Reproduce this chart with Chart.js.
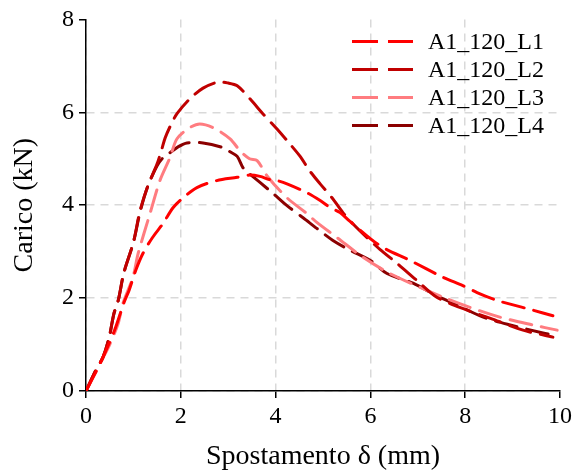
<!DOCTYPE html>
<html>
<head>
<meta charset="utf-8">
<script src="https://cdn.jsdelivr.net/npm/chart.js@4/dist/chart.umd.min.js"></script>
<style>
    html, body { margin: 0; padding: 0; background: #fff; }
    #wrap { width: 577px; height: 475px; }
</style>
</head>
<body>
<div id="wrap"><canvas id="chart" width="577" height="475"></canvas></div>
<script>
// serie (spostamento mm / carico kN)
const labels = ['A1_120_L1', 'A1_120_L2', 'A1_120_L3', 'A1_120_L4'];
const colors = ['#ff0000', '#c00000', '#ff7c80', '#8b0000'];

const xL1 = [0, 0.3, 0.6, 0.8, 0.91, 1.05, 1.2, 1.4, 1.62, 1.84, 2.05, 2.34, 2.76, 3.19, 3.46, 3.67, 3.88, 4.03, 4.24, 4.66, 4.94, 5.15, 5.36, 5.57, 6.2, 6.84, 7.53, 7.95, 8.25, 8.67, 8.95, 9.43, 9.85];
const yL1 = [0, 0.6, 1.3, 1.9, 2.17, 2.6, 2.96, 3.3, 3.6, 3.95, 4.16, 4.38, 4.53, 4.6, 4.65, 4.62, 4.55, 4.53, 4.46, 4.27, 4.1, 3.95, 3.84, 3.65, 3.13, 2.81, 2.45, 2.27, 2.12, 1.95, 1.87, 1.74, 1.62];

const xL2 = [0, 0.21, 0.36, 0.49, 0.59, 0.68, 0.8, 1.0, 1.14, 1.3, 1.5, 1.6, 1.67, 1.8, 1.92, 2.19, 2.47, 2.78, 3.0, 3.19, 3.46, 3.73, 4.03, 4.3, 4.51, 4.72, 4.94, 5.19, 5.42, 5.63, 5.93, 6.2, 6.56, 6.98, 7.4, 8.04, 8.52, 9.22, 9.85];
const yL2 = [0, 0.45, 0.73, 1.16, 1.67, 1.95, 2.55, 3.2, 3.88, 4.4, 4.89, 5.21, 5.45, 5.75, 5.97, 6.29, 6.52, 6.65, 6.63, 6.57, 6.29, 5.97, 5.64, 5.32, 5.06, 4.74, 4.46, 4.16, 3.84, 3.6, 3.3, 3.05, 2.75, 2.38, 2.02, 1.74, 1.57, 1.31, 1.16];

const xL3 = [0, 0.3, 0.5, 0.68, 0.78, 0.99, 1.1, 1.35, 1.56, 1.77, 1.92, 2.19, 2.4, 2.68, 3.04, 3.25, 3.45, 3.61, 3.82, 4.24, 4.66, 4.87, 5.3, 5.84, 6.41, 7.05, 7.53, 8.1, 8.73, 9.43, 9.94];
const yL3 = [0, 0.6, 1.0, 1.46, 1.89, 2.45, 2.96, 3.82, 4.53, 5.02, 5.43, 5.67, 5.75, 5.67, 5.43, 5.17, 5.0, 4.96, 4.63, 4.16, 3.82, 3.63, 3.3, 2.88, 2.53, 2.23, 2.02, 1.8, 1.59, 1.42, 1.31];

const xL4 = [0, 0.21, 0.36, 0.49, 0.59, 0.68, 0.8, 1.0, 1.14, 1.3, 1.5, 1.65, 1.77, 1.95, 2.13, 2.47, 2.89, 3.04, 3.19, 3.31, 3.4, 3.67, 3.95, 4.24, 4.58, 4.87, 5.21, 5.57, 6.0, 6.35, 6.9, 7.4, 7.83, 8.38, 8.95, 9.64, 9.9];
const yL4 = [0, 0.45, 0.73, 1.16, 1.67, 1.95, 2.55, 3.2, 3.85, 4.4, 4.85, 5.05, 5.13, 5.26, 5.34, 5.34, 5.24, 5.15, 5.05, 4.81, 4.72, 4.49, 4.25, 3.99, 3.73, 3.5, 3.24, 3.03, 2.81, 2.53, 2.32, 2.05, 1.85, 1.59, 1.42, 1.25, 1.2];

const xTicks = [0, 2, 4, 6, 8, 10];
const yTicks = [0, 2, 4, 6, 8];

const FONT = "'Liberation Serif', 'Times New Roman', serif";

function toPoints(xs, ys) {
    return xs.map((x, i) => ({ x, y: ys[i] }));
}

const series = [[xL1, yL1], [xL2, yL2], [xL3, yL3], [xL4, yL4]];

const datasets = series.map((s, i) => ({
    label: labels[i],
    data: toPoints(s[0], s[1]),
    borderColor: colors[i],
    backgroundColor: colors[i],
    borderWidth: 3,
    borderDash: [22, 10],
    borderCapStyle: 'round',
    pointRadius: 0,
    tension: 0.3,
    fill: false,
}));

// legenda disegnata dentro l'area del grafico, in alto a destra
const insideLegend = {
    id: 'insideLegend',
    afterDraw(chart) {
        const { ctx, chartArea } = chart;
        ctx.save();
        ctx.font = `24px ${FONT}`;
        ctx.textBaseline = 'middle';
        ctx.fillStyle = '#000';
        chart.data.datasets.forEach((ds, i) => {
            const y = chartArea.top + 22 + i * 28;
            const x0 = chartArea.right - 208;
            ctx.strokeStyle = ds.borderColor;
            ctx.lineWidth = 3;
            ctx.setLineDash([26, 10]);
            ctx.beginPath();
            ctx.moveTo(x0, y);
            ctx.lineTo(x0 + 61, y);
            ctx.stroke();
            ctx.setLineDash([]);
            ctx.fillText(ds.label, chartArea.right - 132, y + 1);
        });
        ctx.restore();
    },
};

const gridColor = (max) => (c) => (c.tick && c.tick.value === max ? 'rgba(0,0,0,0)' : '#d9d9d9');

new Chart(document.getElementById('chart').getContext('2d'), {
    type: 'line',
    data: { datasets },
    options: {
        responsive: false,
        animation: false,
        layout: { padding: { top: 18, right: 17, bottom: 0, left: 0 } },
        plugins: {
            legend: { display: false },
            tooltip: { enabled: false },
        },
        scales: {
            x: {
                type: 'linear',
                min: 0,
                max: 10,
                afterBuildTicks(scale) {
                    scale.ticks = xTicks.map((v) => ({ value: v }));
                },
                afterFit(scale) {
                    scale.height = 84;
                },
                grid: {
                    color: gridColor(10),
                    lineWidth: 1.5,
                    tickLength: 7,
                    tickColor: '#000',
                    tickWidth: 1.5,
                    tickBorderDash: [],
                },
                border: { display: true, color: '#000', width: 1.5, dash: [8, 6] },
                ticks: {
                    color: '#000',
                    font: { family: FONT, size: 24 },
                    padding: 4,
                    maxRotation: 0,
                },
                title: {
                    display: true,
                    text: 'Spostamento δ (mm)',
                    color: '#000',
                    font: { family: FONT, size: 28 },
                    padding: { top: 0, bottom: 2 },
                },
            },
            y: {
                type: 'linear',
                min: 0,
                max: 8,
                afterBuildTicks(scale) {
                    scale.ticks = yTicks.map((v) => ({ value: v }));
                },
                afterFit(scale) {
                    scale.width = 86;
                },
                grid: {
                    color: gridColor(8),
                    lineWidth: 1.5,
                    tickLength: 7,
                    tickColor: '#000',
                    tickWidth: 1.5,
                    tickBorderDash: [],
                },
                border: { display: true, color: '#000', width: 1.5, dash: [8, 6] },
                ticks: {
                    color: '#000',
                    font: { family: FONT, size: 24 },
                    padding: 5,
                },
                title: {
                    display: true,
                    text: 'Carico (kN)',
                    color: '#000',
                    font: { family: FONT, size: 28 },
                    padding: { top: 8, bottom: 0 },
                },
            },
        },
    },
    plugins: [insideLegend],
});
</script>
</body>
</html>
